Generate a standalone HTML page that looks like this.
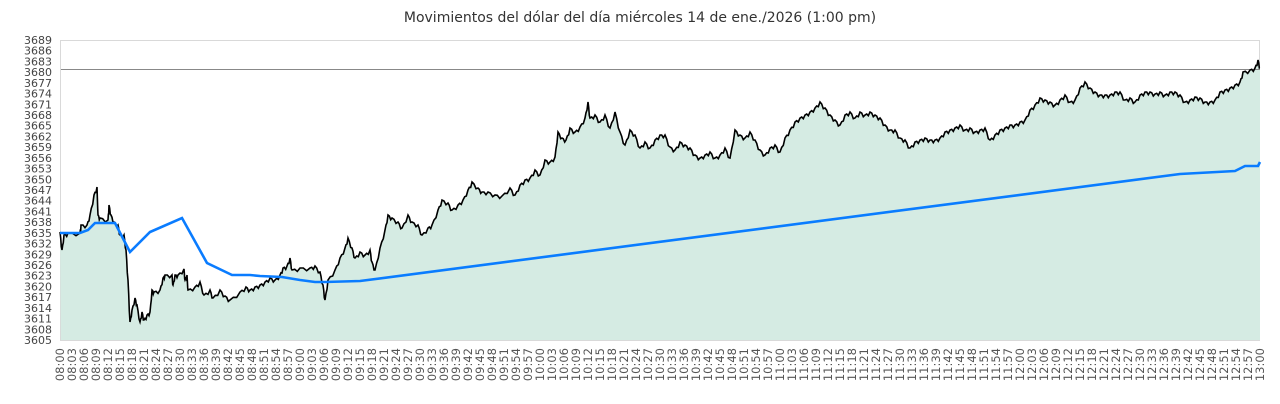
<!DOCTYPE html>
<html><head><meta charset="utf-8"><style>
body{margin:0;background:#fff;width:1280px;height:400px;overflow:hidden;font-family:"DejaVu Sans","Liberation Sans",sans-serif}
</style></head><body>
<svg width="1280" height="400" xmlns="http://www.w3.org/2000/svg" id="s">
<text x="640" y="22" text-anchor="middle" font-size="14" fill="#333">Movimientos del dólar del día miércoles 14 de ene./2026 (1:00 pm)</text>
<rect x="60.5" y="40.5" width="1199" height="300" fill="none" stroke="#d9d9d9"/>
<path id="area" fill="#d5ebe3" stroke="none"/>
<line x1="61" y1="69.5" x2="1260" y2="69.5" stroke="#888" stroke-width="1"/>
<polyline id="blk" fill="none" stroke="#000" stroke-width="1.6"/>
<polyline id="blu" fill="none" stroke="#0a7cff" stroke-width="2.6"/>
<g id="yl" font-size="11" fill="#444" text-anchor="end"></g>
<g id="xl" font-size="11.5" fill="#555"></g>
</svg>
<script>
var b=[[60,232],[62,250],[64,235],[68,233],[80,233],[81,225],[87,225],[90,215],[94,195],[97,187],[98,215],[100,218],[108,220],[109,205],[111,215],[114,222],[118,225],[120,235],[124,235],[126,250],[128,280],[130,322],[132,310],[135,298],[137,305],[140,322],[142,312],[144,320],[147,315],[150,312],[152,290],[154,292],[160,290],[163,278],[165,275],[172,275],[173,285],[175,275],[178,275],[184,269],[185,280],[187,275],[188,290],[195,287],[200,282],[204,295],[210,290],[213,298],[220,290],[225,296],[230,300],[240,292],[246,287],[250,290],[255,287],[260,285],[265,282],[270,278],[275,280],[280,275],[283,268],[287,266],[290,258],[292,270],[300,268],[310,268],[315,266],[320,272],[323,285],[325,300],[328,280],[335,270],[340,258],[345,248],[348,238],[352,248],[355,258],[360,252],[365,255],[370,250],[372,262],[375,270],[380,248],[385,230],[388,215],[392,218],[398,222],[402,228],[408,215],[412,222],[418,225],[422,235],[428,228],[432,225],[438,210],[442,200],[448,203],[452,210],[458,205],[463,200],[468,190],[472,182],[478,188],[482,192],[488,192],[495,195],[502,196],[510,188],[515,195],[520,185],[525,180],[530,178],[535,170],[540,175],[545,160],[550,162],[555,157],[558,132],[562,138],[566,140],[570,128],[575,132],[580,127],[585,118],[588,102],[590,118],[595,115],[600,122],[605,115],[610,128],[615,112],[620,132],[625,145],[630,130],[635,135],[640,148],[645,142],[650,148],[655,140],[660,135],[665,135],[670,147],[675,150],[680,142],[685,145],[690,148],[695,155],[700,158],[705,155],[710,152],[715,158],[720,155],[725,148],[730,158],[735,130],[740,135],[745,138],[750,132],[755,140],[760,150],[765,155],[770,148],[775,145],[780,152],[785,138],[790,130],[795,122],[800,118],[805,115],[810,112],[815,108],[820,102],[825,108],[830,115],[835,120],[840,125],[845,115],[850,112],[855,118],[860,112],[865,115],[870,112],[875,115],[880,118],[885,125],[890,130],[895,130],[900,138],[905,140],[910,148],[915,142],[920,140],[925,138],[930,140],[935,140],[940,138],[945,132],[950,130],[955,128],[960,125],[965,130],[970,128],[975,132],[980,130],[985,128],[990,140],[995,135],[1000,130],[1005,128],[1010,125],[1015,125],[1020,122],[1025,120],[1030,110],[1035,105],[1040,98],[1045,100],[1050,102],[1055,105],[1060,100],[1065,95],[1070,102],[1075,100],[1080,88],[1085,82],[1090,88],[1095,92],[1100,95],[1105,95],[1110,95],[1115,92],[1120,92],[1125,100],[1130,98],[1135,102],[1140,95],[1145,92],[1150,92],[1155,94],[1160,92],[1165,95],[1170,92],[1175,92],[1180,95],[1185,102],[1190,100],[1195,97],[1200,98],[1205,102],[1210,102],[1215,100],[1220,92],[1225,90],[1230,88],[1235,85],[1240,82],[1243,72],[1250,70],[1255,68],[1258,60],[1260,68]];
var pts=[];for(var i=0;i<b.length-1;i++){var a=b[i],c=b[i+1];pts.push(a);var n=3;for(var j=1;j<n;j++){var f=j/n;pts.push([a[0]+(c[0]-a[0])*f,a[1]+(c[1]-a[1])*f+(((i*7+j*3)%7)-3)*0.9]);}}pts.push(b[b.length-1]);
var s=pts.map(p=>p[0].toFixed(1)+','+p[1].toFixed(1)).join(' ');
document.getElementById('blk').setAttribute('points',s);
document.getElementById('area').setAttribute('d','M61,340 L'+s.replace(/ /g,' L')+' L1260,340 Z');
var u=[[60,233],[80,233],[88,230],[95,223],[115,223],[130,252],[150,232],[182,218],[207,263],[232,275],[250,275],[260,276],[282,277],[300,280],[315,282],[325,282],[360,281],[1180,174],[1235,171],[1245,166],[1258,166],[1260,162]];
document.getElementById('blu').setAttribute('points',u.map(p=>p.join(',')).join(' '));
var yl=document.getElementById('yl'),h='';
for(var v=3605;v<=3689;v+=3){var y=40+(3689-v)*300/84;h+='<text x="52" y="'+(y+4).toFixed(1)+'">'+v+'</text>';}
yl.innerHTML=h;
var xl=document.getElementById('xl');h='';
for(var k=0;k<=100;k++){var t=k*3,hh=8+Math.floor(t/60),mm=t%60;var lab=(hh<10?'0':'')+hh+':'+(mm<10?'0':'')+mm;var x=60+k*12+4;h+='<text transform="translate('+x+',348) rotate(-90)" text-anchor="end">'+lab+'</text>';}
xl.innerHTML=h;
</script>
</body></html>
